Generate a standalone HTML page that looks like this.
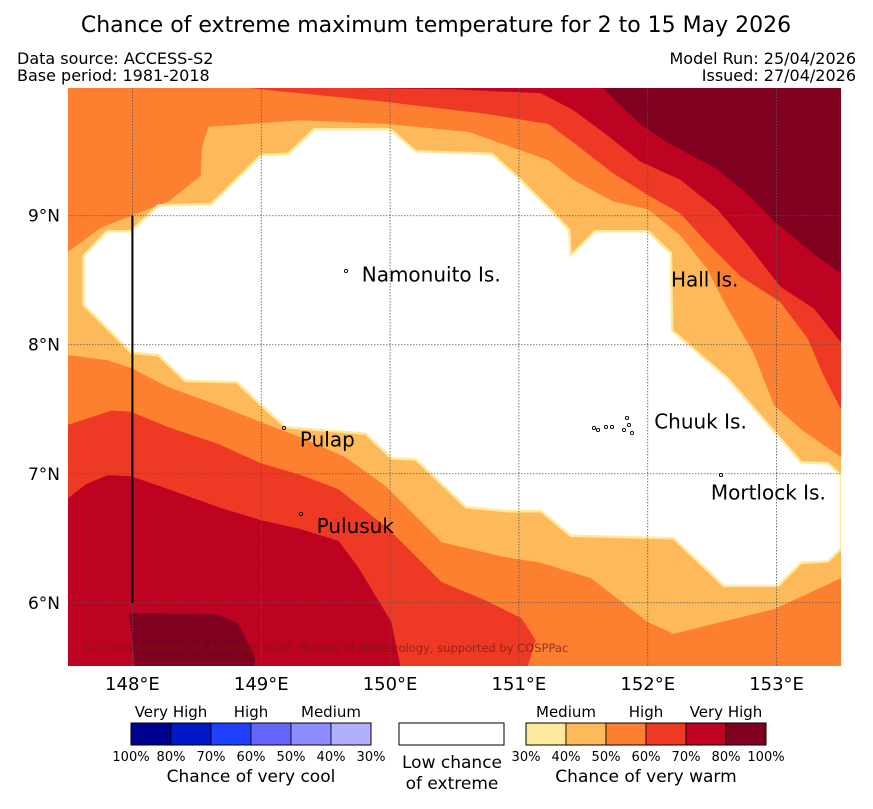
<!DOCTYPE html>
<html><head><meta charset="utf-8"><style>
body{margin:0;background:#fff;width:873px;height:804px;overflow:hidden;font-family:"Liberation Sans","DejaVu Sans",sans-serif}
text{font-family:"DejaVu Sans","Liberation Sans",sans-serif}
</style></head><body>
<svg id="chart" width="873" height="804" viewBox="0 0 873 804" xmlns="http://www.w3.org/2000/svg">
<text x="436" y="32" text-anchor="middle" font-size="22">Chance of extreme maximum temperature for 2 to 15 May 2026</text>
<text x="17" y="64" font-size="16">Data source: ACCESS-S2</text>
<text x="17" y="81" font-size="16">Base period: 1981-2018</text>
<text x="856" y="64" font-size="16" text-anchor="end">Model Run: 25/04/2026</text>
<text x="856" y="81" font-size="16" text-anchor="end">Issued: 27/04/2026</text>
<defs><clipPath id="mapclip"><rect x="68" y="88" width="773" height="578"/></clipPath></defs>
<g id="map" clip-path="url(#mapclip)"></g>
<g id="axes"></g>
<g id="legend"></g>
</svg>
<script>
const lonMin=147.5, lonMax=153.5, latMin=5.51, latMax=9.99;
const lonTicks=[148,149,150,151,152,153];
const latTicks=[6,7,8,9];
const lonTickLabels=["148°E","149°E","150°E","151°E","152°E","153°E"];
const latTickLabels=["6°N","7°N","8°N","9°N"];
const bandColors=["#fee99c","#fdb95a","#fd8030","#ee3a25","#bd0222","#800020"];
const coolColors=["#000090","#0018c8","#2040ff","#6464ff","#8c8cff","#b0b0ff"];
const coolLabels=["100%","80%","70%","60%","50%","40%","30%"];
const warmLabels=["30%","40%","50%","60%","70%","80%","100%"];
const p60TR=[[148.90,9.99],[149.99,9.88],[150.74,9.79],[151.23,9.71],[151.42,9.57],[151.73,9.33],[152.00,9.16],[152.25,9.02],[152.46,8.79],[152.72,8.53],[153.03,8.33],[153.24,8.05],[153.36,7.77],[153.5,7.50],[153.5,9.99]];
const p70TR=[[149.73,9.99],[150.47,9.98],[151.17,9.95],[151.42,9.82],[151.69,9.62],[151.94,9.42],[152.25,9.28],[152.54,9.05],[152.78,8.77],[153.03,8.45],[153.29,8.28],[153.5,8.02],[153.5,9.99]];
const p80TR=[[151.65,9.99],[151.94,9.71],[152.15,9.57],[152.54,9.36],[152.78,9.16],[152.98,8.96],[153.24,8.74],[153.5,8.55],[153.5,9.99]];
const p60BL=[[147.5,7.38],[147.84,7.49],[147.99,7.48],[148.28,7.36],[148.67,7.23],[149.00,7.08],[149.31,6.99],[149.60,6.88],[149.99,6.57],[150.40,6.16],[150.74,6.02],[151.02,5.88],[151.13,5.71],[151.07,5.51],[147.5,5.51]];
const p70BL=[[147.5,6.81],[147.64,6.92],[147.81,6.99],[147.99,6.98],[148.28,6.88],[148.67,6.74],[149.00,6.64],[149.31,6.57],[149.60,6.48],[149.75,6.28],[149.89,6.05],[150.01,5.85],[150.08,5.51],[147.5,5.51]];
const p80BL=[[147.97,5.92],[148.66,5.91],[148.82,5.84],[148.95,5.58],[148.95,5.51],[148.02,5.51],[147.99,5.79]];
const p40=[[147.5,8.72],[147.76,8.91],[148.02,9.01],[148.28,9.11],[148.53,9.31],[148.54,9.53],[148.59,9.69],[149.31,9.74],[149.99,9.71],[150.61,9.65],[151.23,9.43],[151.42,9.28],[151.73,9.11],[152.00,9.05],[152.25,8.85],[152.46,8.59],[152.62,8.28],[152.82,7.94],[152.98,7.53],[153.21,7.33],[153.5,7.13],[153.5,6.19],[152.98,5.95],[152.20,5.76],[152.00,5.85],[151.56,6.19],[151.17,6.31],[150.86,6.36],[150.40,6.47],[149.96,6.91],[149.65,7.13],[149.31,7.28],[149.00,7.40],[148.67,7.53],[148.28,7.67],[147.99,7.82],[147.81,7.88],[147.5,7.92]];
const pLow=[[147.62,8.31],[147.62,8.69],[147.80,8.88],[147.99,8.88],[148.20,9.08],[148.61,9.09],[149.00,9.47],[149.21,9.48],[149.41,9.67],[150.00,9.67],[150.20,9.50],[150.79,9.48],[151.00,9.29],[151.23,9.06],[151.39,8.89],[151.40,8.69],[151.59,8.88],[152.00,8.88],[152.18,8.71],[152.19,8.11],[152.62,7.74],[152.98,7.33],[153.19,7.09],[153.40,7.08],[153.5,6.99],[153.5,6.42],[153.40,6.32],[153.19,6.31],[153.01,6.13],[152.59,6.13],[152.20,6.50],[151.40,6.52],[151.17,6.71],[150.92,6.71],[150.59,6.74],[150.20,7.11],[150.01,7.12],[149.81,7.31],[149.19,7.36],[149.00,7.53],[148.81,7.71],[148.41,7.72],[148.20,7.92],[147.99,7.94]];
const islandNames=["Namonuito Is.","Hall Is.","Pulap","Chuuk Is.","Mortlock Is.","Pulusuk"];
const islandLon=[149.78,152.18,149.30,152.05,152.49,149.43];
const islandLat=[8.49,8.45,7.21,7.35,6.80,6.54];

const X0=68,X1=841,Y0=88,Y1=666;
function xs(lon){return X0+(lon-lonMin)/(lonMax-lonMin)*(X1-X0);}
function ys(lat){return Y0+(latMax-lat)/(latMax-latMin)*(Y1-Y0);}
const NS="http://www.w3.org/2000/svg";
const map=document.getElementById('map'),axes=document.getElementById('axes'),leg=document.getElementById('legend');
function mk(tag,attrs,parent){const e=document.createElementNS(NS,tag);for(const k in attrs)e.setAttribute(k,attrs[k]);parent.appendChild(e);return e;}
function pts(p){return p.map(q=>xs(q[0]).toFixed(1)+","+ys(q[1]).toFixed(1)).join(" ");}

let bg=mk('rect',{x:X0,y:Y0,width:X1-X0,height:Y1-Y0,fill:bandColors[2]},map);


const layers=[[p60TR,3,'band-60-70-north'],[p70TR,4,'band-70-80-north'],[p80TR,5,'band-80-100-north'],[p60BL,3,'band-60-70-south'],[p70BL,4,'band-70-80-south'],[p80BL,5,'band-80-100-south'],[p40,1,'band-40-50']];
for(const L of layers){
 const e=mk('polygon',{points:pts(L[0]),fill:bandColors[L[1]]},map);
 
 
}
let low=mk('polygon',{points:pts(pLow),fill:"#fff",stroke:bandColors[0],"stroke-width":2.5,"stroke-linejoin":"round"},map);



lonTicks.forEach((v,i)=>{
 const g=mk('line',{x1:xs(v),x2:xs(v),y1:Y0,y2:Y1,stroke:"#555","stroke-width":0.8,"stroke-dasharray":"1.5,1.5"},map);
 
 
 const t=mk('text',{x:xs(v),y:690,"text-anchor":"middle","font-size":18},axes);t.textContent=lonTickLabels[i];
 
 
});
latTicks.forEach((v,i)=>{
 const g=mk('line',{x1:X0,x2:X1,y1:ys(v),y2:ys(v),stroke:"#555","stroke-width":0.8,"stroke-dasharray":"1.5,1.5"},map);
 
 
 const t=mk('text',{x:60,y:ys(v)+6,"text-anchor":"end","font-size":17},axes);t.textContent=latTickLabels[i];
 
 
});
let bl=mk('line',{x1:xs(148),x2:xs(148),y1:ys(9),y2:ys(6),stroke:"#000","stroke-width":2},map);


let cp=mk('text',{x:84,y:652,"font-size":11.5,fill:"#7a1a10","fill-opacity":0.75},map);cp.textContent="© Commonwealth of Australia 2026, Bureau of Meteorology, supported by COSPPac";



islandNames.forEach((n,i)=>{
 const t=mk('text',{x:xs(islandLon[i]),y:ys(islandLat[i]),"font-size":20},map);t.textContent=n;
 
 
});
const marks=[[346,271],[284,428],[301,514],[721,475],[594,428],[598,430],[606,427],[612,427],[627,418],[629,425],[624,430],[632,433]];
marks.forEach(m=>{const c=mk('circle',{cx:m[0],cy:m[1],r:1.6,fill:"none",stroke:"#000","stroke-width":0.9},map);
 
 });

function bar(x0,colors,labels,name){
 colors.forEach((c,i)=>{const r=mk('rect',{x:x0+i*40,y:723,width:40,height:22,fill:c,stroke:"#000","stroke-width":0.8},leg);
 
 });
 mk('rect',{x:x0,y:723,width:240,height:22,fill:"none",stroke:"#000","stroke-width":1},leg);
 labels.forEach((l,i)=>{const t=mk('text',{x:x0+i*40,y:761,"text-anchor":"middle","font-size":13},leg);t.textContent=l;
 
 });
}
bar(131,coolColors,coolLabels,'cool');
bar(526,bandColors,warmLabels,'warm');
const lt=[[171,717,"Very High"],[251,717,"High"],[331,717,"Medium"],[566,717,"Medium"],[646,717,"High"],[726,717,"Very High"]];
lt.forEach(a=>{const t=mk('text',{x:a[0],y:a[1],"text-anchor":"middle","font-size":15},leg);t.textContent=a[2];
 
 });
let wb=mk('rect',{x:399,y:723,width:105,height:22,fill:"#fff",stroke:"#000","stroke-width":1},leg);


const tx=[[251,782,"Chance of very cool"],[452,768,"Low chance"],[452,789,"of extreme"],[646,782,"Chance of very warm"]];
tx.forEach(a=>{const t=mk('text',{x:a[0],y:a[1],"text-anchor":"middle","font-size":17},leg);t.textContent=a[2];
 
 });
</script>
</body></html>
